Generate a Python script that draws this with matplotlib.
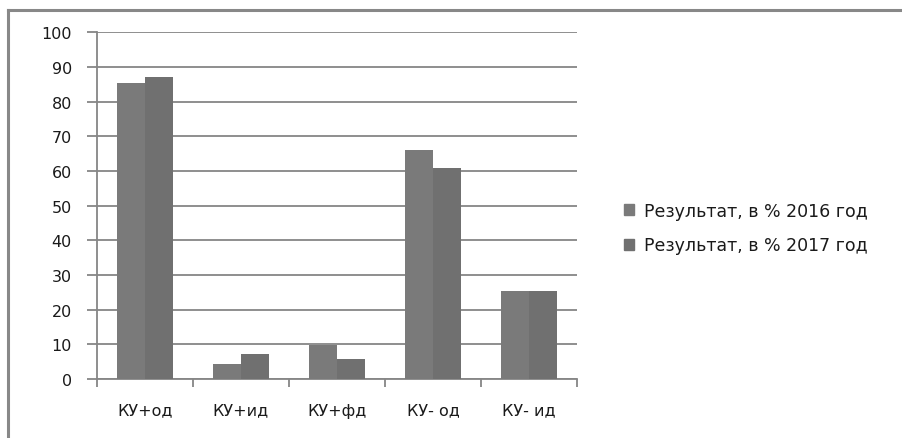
import matplotlib
matplotlib.use("Agg")
import matplotlib.pyplot as plt
from matplotlib.lines import Line2D
from matplotlib.patches import Patch
import numpy as np

plt.rcParams["font.family"] = ["DejaVu Sans"]

categories = ["КУ+од", "КУ+ид", "КУ+фд", "КУ- од", "КУ- ид"]
series_names = ["Результат, в % 2016 год", "Результат, в % 2017 год"]
values_2016 = [85.3, 4.3, 9.8, 66.0, 25.4]
values_2017 = [87.0, 7.2, 5.8, 60.8, 25.4]
yticks = [0, 10, 20, 30, 40, 50, 60, 70, 80, 90, 100]

colors = ["#7a7a7a", "#707070"]
grid_c = "#868686"
txt_c = "#1a1a1a"
fs = 11.5

W, H = 902, 439
fig = plt.figure(figsize=(W / 100, H / 100), dpi=100)
fig.patch.set_facecolor("white")

# outer frame lines (top and left)
fig.add_artist(Line2D([8 / W, 1], [1 - 11 / H, 1 - 11 / H], color="#888888", lw=2.2))
fig.add_artist(Line2D([8 / W, 8 / W], [0, 1 - 11 / H], color="#888888", lw=2.2))

ax = fig.add_axes([97 / W, 1 - 380 / H, (577 - 97) / W, (380 - 33.3) / H])
x = np.arange(len(categories))
bw = 0.29
ax.bar(x - bw / 2, values_2016, bw, color=colors[0], zorder=3)
ax.bar(x + bw / 2, values_2017, bw, color=colors[1], zorder=3)

ax.set_xlim(-0.5, len(categories) - 0.5)
ax.set_ylim(0, 100)
ax.set_yticks(yticks)
ax.set_yticklabels([str(v) for v in yticks], fontsize=fs, color=txt_c)
ax.yaxis.grid(True, color=grid_c, lw=1.3, zorder=0)
ax.tick_params(axis="y", length=7, width=1.3, color=grid_c, pad=11)

ax.set_xticks(x)
ax.set_xticklabels(categories, fontsize=fs, color=txt_c)
ax.set_xticks(np.arange(len(categories) + 1) - 0.5, minor=True)
ax.tick_params(axis="x", which="major", length=0, pad=17)
ax.tick_params(axis="x", which="minor", length=6, width=1.3, color=grid_c)

for s in ["top", "right"]:
    ax.spines[s].set_visible(False)
for s in ["left", "bottom"]:
    ax.spines[s].set_color(grid_c)
    ax.spines[s].set_linewidth(1.3)

handles = [Patch(color=colors[0]), Patch(color=colors[1])]
fig.legend(handles, series_names, loc="center left",
           bbox_to_anchor=(608 / W, 1 - 229 / H), frameon=False,
           fontsize=12.5, handlelength=0.6, handleheight=0.6,
           handletextpad=0.55, labelspacing=0.95, labelcolor=txt_c)

fig.savefig("out.png", dpi=100, facecolor="white")
